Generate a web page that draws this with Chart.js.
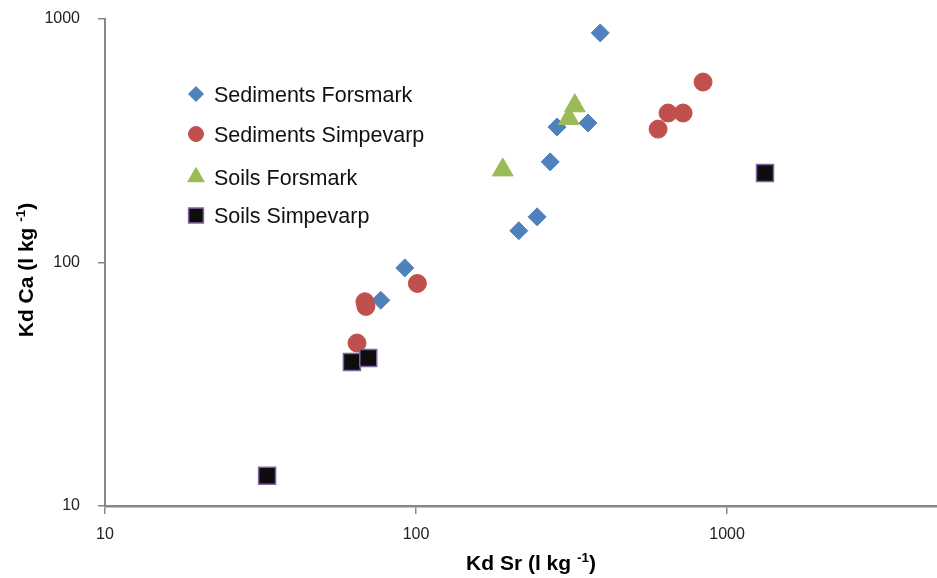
<!DOCTYPE html>
<html>
<head>
<meta charset="utf-8">
<script src="https://cdn.jsdelivr.net/npm/chart.js@4.4.0/dist/chart.umd.min.js"></script>
<style>
  body { margin: 0; background: #fff; }
  #wrap { width: 937px; height: 578px; }
</style>
</head>
<body>
<div id="wrap"><canvas id="kdChart" width="937" height="578"></canvas></div>
<script>
// Kd values (l/kg)
const sedForsmarkSr   = [391, 284, 357, 270, 245, 214, 92, 77];
const sedForsmarkCa   = [877, 360, 374, 259, 154, 135, 95, 70];
const sedSimpevarpSr  = [837, 646, 722, 600, 101, 68.5, 69, 64.6];
const sedSimpevarpCa  = [551, 411, 411, 353, 82, 69, 66, 46.7];
const soilForsmarkSr  = [324, 310, 190];
const soilForsmarkCa  = [440, 390, 240];
const soilSimpevarpSr = [1324, 62.2, 70.2, 33.2];
const soilSimpevarpCa = [233, 39, 40.5, 13.3];

const xTicks = [10, 100, 1000];
const yTicks = [10, 100, 1000];

const seriesNames = ['Sediments Forsmark', 'Sediments Simpevarp', 'Soils Forsmark', 'Soils Simpevarp'];

const AXIS_GREY = '#878787';
const FONT = "'Liberation Sans', Arial, sans-serif";

function pairs(xs, ys) {
  return xs.map((x, i) => ({ x: x, y: ys[i] }));
}

// legend drawn inside the plot, like the original
const legendRows = [
  { style: 'rectRot',  radius: 7.5, fill: '#4F81BD', stroke: '#4F81BD', bw: 1,   y: 94 },
  { style: 'circle',   radius: 7.5, fill: '#C0504D', stroke: '#C0504D', bw: 1,   y: 134 },
  { style: 'triangle', radius: 9.5, fill: '#9BBB59', stroke: '#9BBB59', bw: 1,   y: 177 },
  { style: 'rect',     radius: 10.5, fill: '#0D0D0D', stroke: '#8064A2', bw: 1.5, y: 215.5 }
];

function drawMarker(ctx, row, x, y) {
  const opts = { pointStyle: row.style, radius: row.radius, rotation: 0, borderWidth: row.bw };
  ctx.save();
  ctx.fillStyle = row.fill;
  ctx.strokeStyle = row.stroke;
  ctx.lineWidth = row.bw;
  Chart.helpers.drawPoint(ctx, opts, x, y);
  ctx.restore();
}

function drawSupTitle(ctx, main, sup, tail, cx, cy, rotate) {
  ctx.save();
  ctx.translate(cx, cy);
  if (rotate) ctx.rotate(-Math.PI / 2);
  ctx.fillStyle = '#000';
  ctx.textBaseline = 'alphabetic';
  ctx.textAlign = 'left';
  const mainFont = 'bold 21px ' + FONT;
  const supFont = 'bold 13.5px ' + FONT;
  ctx.font = mainFont;
  const wMain = ctx.measureText(main).width;
  const wTail = ctx.measureText(tail).width;
  ctx.font = supFont;
  const wSup = ctx.measureText(sup).width;
  let x = -(wMain + wSup + wTail) / 2;
  ctx.font = mainFont;
  ctx.fillText(main, x, 7);
  x += wMain;
  ctx.font = supFont;
  ctx.fillText(sup, x, -1.5);
  x += wSup;
  ctx.font = mainFont;
  ctx.fillText(tail, x, 7);
  ctx.restore();
}

const overlayPlugin = {
  id: 'overlay',
  afterDraw(chart) {
    const ctx = chart.ctx;
    legendRows.forEach((row, i) => {
      drawMarker(ctx, row, 196, row.y);
      ctx.save();
      ctx.font = '21.5px ' + FONT;
      ctx.fillStyle = '#111';
      ctx.textBaseline = 'alphabetic';
      ctx.fillText(seriesNames[i], 214, row.y + 7.5);
      ctx.restore();
    });
    drawSupTitle(ctx, 'Kd Sr (l kg ', '-1', ')', 531, 563, false);
    drawSupTitle(ctx, 'Kd Ca (l kg ', '-1', ')', 26, 270, true);
  }
};

function noPad(s) {
  s.paddingTop = 0;
  s.paddingBottom = 0;
  s.paddingLeft = 0;
  s.paddingRight = 0;
}

new Chart(document.getElementById('kdChart'), {
  type: 'scatter',
  data: {
    datasets: [
      {
        label: seriesNames[0],
        data: pairs(sedForsmarkSr, sedForsmarkCa),
        pointStyle: 'rectRot', pointRadius: 9,
        backgroundColor: '#4F81BD', borderColor: '#4F81BD', borderWidth: 1,
        order: 4
      },
      {
        label: seriesNames[1],
        data: pairs(sedSimpevarpSr, sedSimpevarpCa),
        pointStyle: 'circle', pointRadius: 9,
        backgroundColor: '#C0504D', borderColor: '#C0504D', borderWidth: 1,
        order: 3
      },
      {
        label: seriesNames[2],
        data: pairs(soilForsmarkSr, soilForsmarkCa),
        pointStyle: 'triangle', pointRadius: 12,
        backgroundColor: '#9BBB59', borderColor: '#9BBB59', borderWidth: 1,
        order: 2
      },
      {
        label: seriesNames[3],
        data: pairs(soilSimpevarpSr, soilSimpevarpCa),
        pointStyle: 'rect', pointRadius: 12,
        backgroundColor: '#0D0D0D', borderColor: '#8064A2', borderWidth: 1.5,
        order: 1
      }
    ]
  },
  options: {
    responsive: false,
    animation: false,
    layout: { autoPadding: false, padding: { top: 19, right: 0, bottom: 0, left: 0 } },
    plugins: {
      legend: { display: false },
      tooltip: { enabled: false },
      title: { display: false }
    },
    scales: {
      x: {
        type: 'logarithmic',
        min: 10,
        max: 4730,
        afterBuildTicks: s => { s.ticks = xTicks.map(v => ({ value: v })); },
        afterFit: s => { s.height = 72; noPad(s); },
        ticks: {
          callback: v => String(v),
          font: { family: FONT, size: 16 },
          color: '#222',
          padding: 11,
          maxRotation: 0
        },
        grid: { drawOnChartArea: false, drawTicks: true, tickLength: 8, color: AXIS_GREY, lineWidth: 1.5 },
        border: { display: true, color: AXIS_GREY, width: 2.5 }
      },
      y: {
        type: 'logarithmic',
        min: 10,
        max: 1000,
        afterBuildTicks: s => { s.ticks = yTicks.map(v => ({ value: v })); },
        afterFit: s => { s.width = 105; noPad(s); },
        ticks: {
          callback: v => String(v),
          font: { family: FONT, size: 16 },
          color: '#222',
          padding: 18
        },
        grid: { drawOnChartArea: false, drawTicks: true, tickLength: 7, color: AXIS_GREY, lineWidth: 1.5 },
        border: { display: true, color: AXIS_GREY, width: 2 }
      }
    }
  },
  plugins: [overlayPlugin]
});
</script>
</body>
</html>
